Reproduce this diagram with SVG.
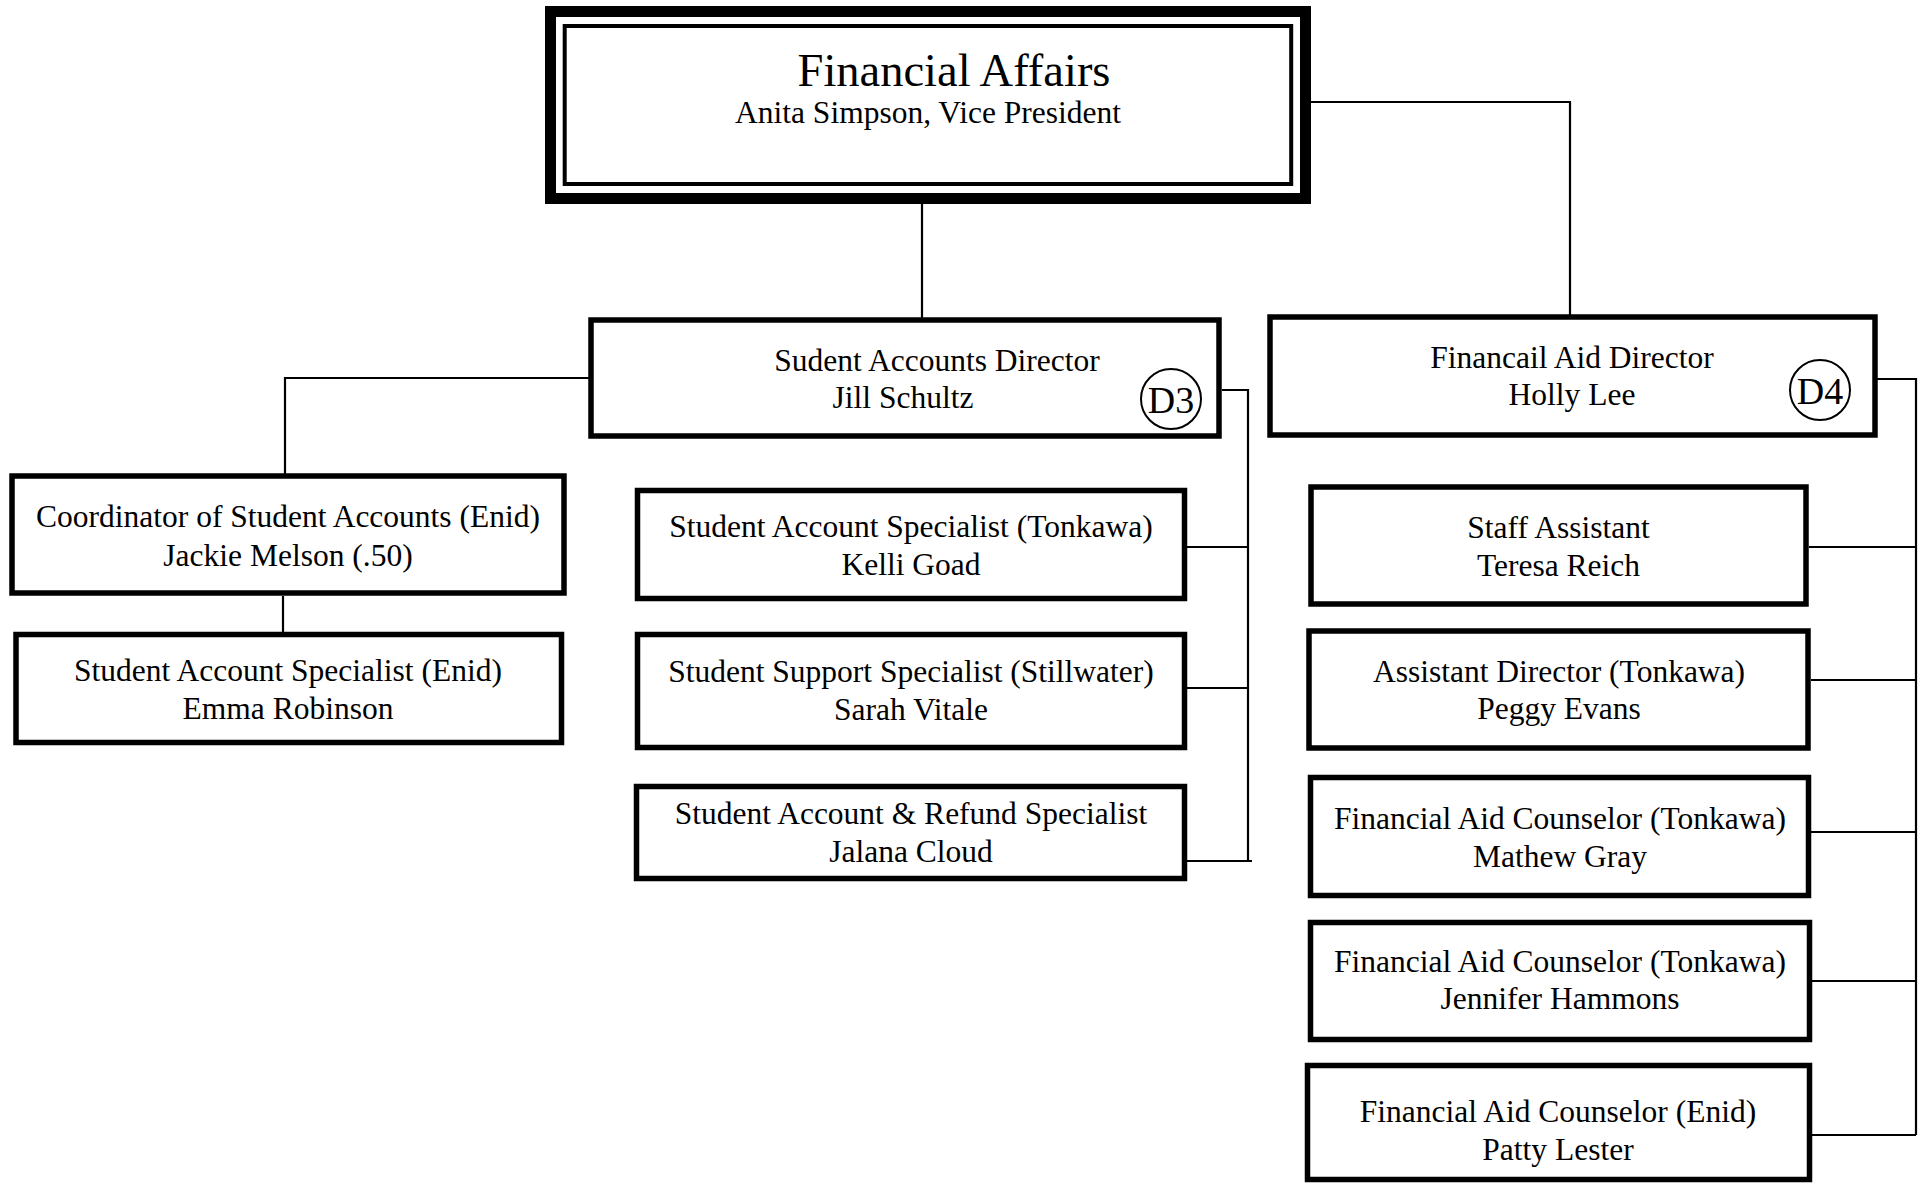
<svg xmlns="http://www.w3.org/2000/svg" width="1923" height="1183" viewBox="0 0 1923 1183">
<style>
.box{fill:#fff;stroke:#000;stroke-width:5.5}
.t{font-family:"Liberation Serif","Times New Roman",serif;font-size:31.5px;fill:#000;text-anchor:middle}
.title{font-size:46.5px}
.dl{font-size:38px}
.badge{fill:none;stroke:#000;stroke-width:2}
.conn{fill:none;stroke:#000;stroke-width:2.2}
</style>
<rect width="1923" height="1183" fill="#fff"/>
<g id="connectors">
<path class="conn" d="M922 204 V318"/>
<path class="conn" d="M1311 102 H1570 V315"/>
<path class="conn" d="M590 378 H285 V476"/>
<path class="conn" d="M283 596 V634"/>
<path class="conn" d="M1222 390 H1248 V861"/>
<path class="conn" d="M1187 547 H1248"/>
<path class="conn" d="M1187 688 H1248"/>
<path class="conn" d="M1187 861 H1252"/>
<path class="conn" d="M1877 379 H1916 V1135"/>
<path class="conn" d="M1809 547 H1916"/>
<path class="conn" d="M1811 680 H1916"/>
<path class="conn" d="M1811 832 H1916"/>
<path class="conn" d="M1812 981 H1916"/>
<path class="conn" d="M1812 1135 H1916"/>
</g>
<g id="n-financial-affairs">
<rect x="550.5" y="11.5" width="755" height="187" fill="#fff" stroke="#000" stroke-width="11"/>
<rect x="564.7" y="26" width="726.5" height="158" fill="none" stroke="#000" stroke-width="4"/>
<text class="t title" x="954" y="86">Financial Affairs</text>
<text class="t" x="928" y="123">Anita Simpson, Vice President</text>
</g>
<g id="n-student-accounts-director">
<rect class="box" x="591" y="320" width="628" height="116"/>
<text class="t" x="937" y="371">Sudent Accounts Director</text>
<text class="t" x="903" y="408">Jill Schultz</text>
<circle class="badge" cx="1171" cy="399" r="30"/>
<text class="t dl" x="1171" y="413">D3</text>
</g>
<g id="n-financial-aid-director">
<rect class="box" x="1270" y="317" width="605" height="118"/>
<text class="t" x="1572" y="368">Financail Aid Director</text>
<text class="t" x="1572" y="405">Holly Lee</text>
<circle class="badge" cx="1820" cy="390" r="30"/>
<text class="t dl" x="1820" y="404">D4</text>
</g>
<g id="n-coordinator">
<rect class="box" x="12" y="476" width="552" height="117"/>
<text class="t" x="288" y="527">Coordinator of Student Accounts (Enid)</text>
<text class="t" x="288" y="566">Jackie Melson (.50)</text>
</g>
<g id="n-specialist-enid">
<rect class="box" x="16" y="634.5" width="545.5" height="108"/>
<text class="t" x="288" y="681">Student Account Specialist (Enid)</text>
<text class="t" x="288" y="719">Emma Robinson</text>
</g>
<g id="n-specialist-tonkawa">
<rect class="box" x="637.5" y="490.5" width="547" height="108"/>
<text class="t" x="911" y="537">Student Account Specialist (Tonkawa)</text>
<text class="t" x="911" y="575">Kelli Goad</text>
</g>
<g id="n-support-stillwater">
<rect class="box" x="637.5" y="634.5" width="547" height="113"/>
<text class="t" x="911" y="682">Student Support Specialist (Stillwater)</text>
<text class="t" x="911" y="720">Sarah Vitale</text>
</g>
<g id="n-refund-specialist">
<rect class="box" x="636.5" y="786.5" width="548" height="92"/>
<text class="t" x="911" y="824">Student Account &amp; Refund Specialist</text>
<text class="t" x="911" y="862">Jalana Cloud</text>
</g>
<g id="n-staff-assistant">
<rect class="box" x="1311" y="487" width="495" height="117"/>
<text class="t" x="1558.5" y="538">Staff Assistant</text>
<text class="t" x="1558.5" y="576">Teresa Reich</text>
</g>
<g id="n-assistant-director">
<rect class="box" x="1309" y="631" width="499" height="117"/>
<text class="t" x="1559" y="682">Assistant Director (Tonkawa)</text>
<text class="t" x="1559" y="719">Peggy Evans</text>
</g>
<g id="n-counselor-gray">
<rect class="box" x="1310.5" y="777.5" width="498" height="118"/>
<text class="t" x="1560" y="829">Financial Aid Counselor (Tonkawa)</text>
<text class="t" x="1560" y="867">Mathew Gray</text>
</g>
<g id="n-counselor-hammons">
<rect class="box" x="1310.5" y="922.5" width="499" height="117"/>
<text class="t" x="1560" y="972">Financial Aid Counselor (Tonkawa)</text>
<text class="t" x="1560" y="1009">Jennifer Hammons</text>
</g>
<g id="n-counselor-lester">
<rect class="box" x="1307.5" y="1065.5" width="502" height="114"/>
<text class="t" x="1558" y="1122">Financial Aid Counselor (Enid)</text>
<text class="t" x="1558" y="1160">Patty Lester</text>
</g>
</svg>
